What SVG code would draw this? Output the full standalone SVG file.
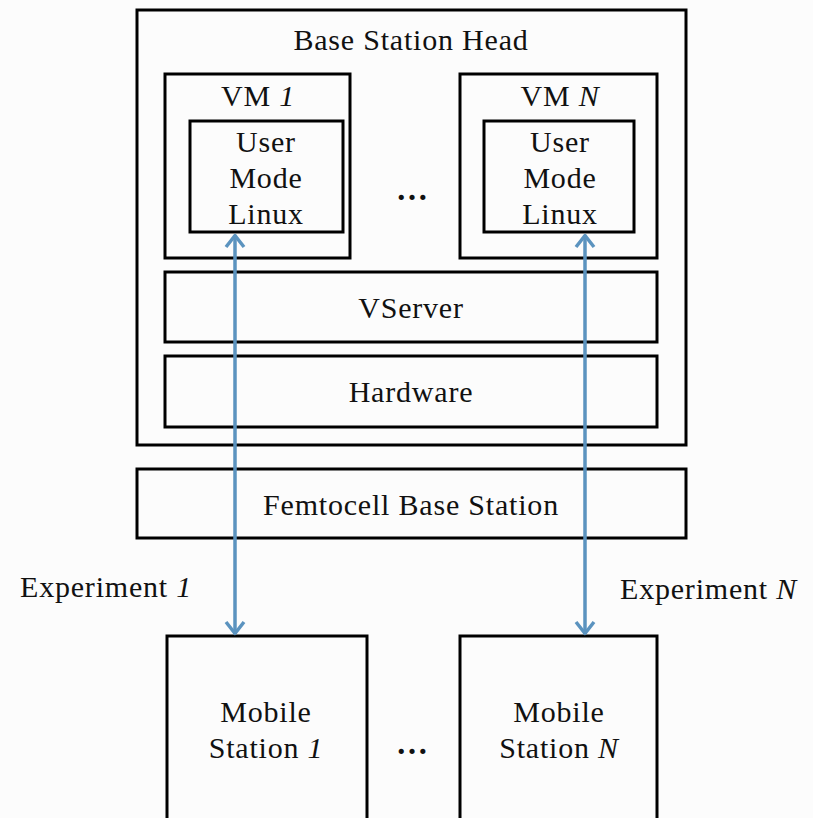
<svg xmlns="http://www.w3.org/2000/svg" width="813" height="818" viewBox="0 0 813 818">
<style>
.box{fill:none;stroke:#000;stroke-width:3}
.t{font-family:"Liberation Serif","Times New Roman",serif;font-size:30px;letter-spacing:0.8px;fill:#111;text-anchor:middle}
.l{text-anchor:start}
.d{font-size:32px;font-weight:bold;letter-spacing:0}
.conn{stroke:#5b93bf;stroke-width:3.5;fill:none}
</style>
<defs>
<marker id="ah" markerWidth="18" markerHeight="24" refX="0" refY="0" orient="auto-start-reverse" markerUnits="userSpaceOnUse" viewBox="-16 -12 18 24">
<path d="M-12,-9 L-0.5,0 L-12,9" fill="none" stroke="#5b93bf" stroke-width="3.5" stroke-linejoin="round"/>
</marker>
</defs>
<rect width="813" height="818" fill="#fcfcfc"/>
<g id="bsh"><rect class="box" x="137" y="10" width="549" height="435"/><text class="t" x="411" y="50">Base Station Head</text></g>
<g id="vm1"><rect class="box" x="165" y="74" width="185" height="184"/><text class="t" x="258" y="106">VM <tspan font-style="italic">1</tspan></text></g>
<g id="uml1"><rect class="box" x="190" y="121" width="153" height="111"/><text class="t" x="266" y="152">User</text><text class="t" x="266" y="188">Mode</text><text class="t" x="266" y="224">Linux</text></g>
<g id="vmN"><rect class="box" x="460" y="74" width="197" height="184"/><text class="t" x="560" y="106">VM <tspan font-style="italic">N</tspan></text></g>
<g id="umlN"><rect class="box" x="484" y="121" width="150" height="111"/><text class="t" x="560" y="152">User</text><text class="t" x="560" y="188">Mode</text><text class="t" x="560" y="224">Linux</text></g>
<g id="dots1"><text class="t d" x="412" y="200">…</text></g>
<g id="vserver"><rect class="box" x="165" y="272" width="492" height="70"/><text class="t" x="411" y="318">VServer</text></g>
<g id="hardware"><rect class="box" x="165" y="356" width="492" height="71"/><text class="t" x="411" y="402">Hardware</text></g>
<g id="femto"><rect class="box" x="137" y="469" width="549" height="69"/><text class="t" x="411" y="515">Femtocell Base Station</text></g>
<g id="ms1"><rect class="box" x="167" y="636" width="200" height="190"/><text class="t" x="266" y="722">Mobile</text><text class="t" x="266" y="758">Station <tspan font-style="italic">1</tspan></text></g>
<g id="msN"><rect class="box" x="460" y="636" width="197" height="190"/><text class="t" x="559" y="722">Mobile</text><text class="t" x="559" y="758">Station <tspan font-style="italic">N</tspan></text></g>
<g id="dots2"><text class="t d" x="412" y="754">…</text></g>
<g id="labels"><text class="t l" x="20" y="597">Experiment <tspan font-style="italic">1</tspan></text><text class="t l" x="620" y="599">Experiment <tspan font-style="italic">N</tspan></text></g>
<g id="connectors">
<line class="conn" x1="235" y1="235" x2="235" y2="634" marker-start="url(#ah)" marker-end="url(#ah)"/>
<line class="conn" x1="585" y1="235" x2="585" y2="634" marker-start="url(#ah)" marker-end="url(#ah)"/>
</g>
</svg>
